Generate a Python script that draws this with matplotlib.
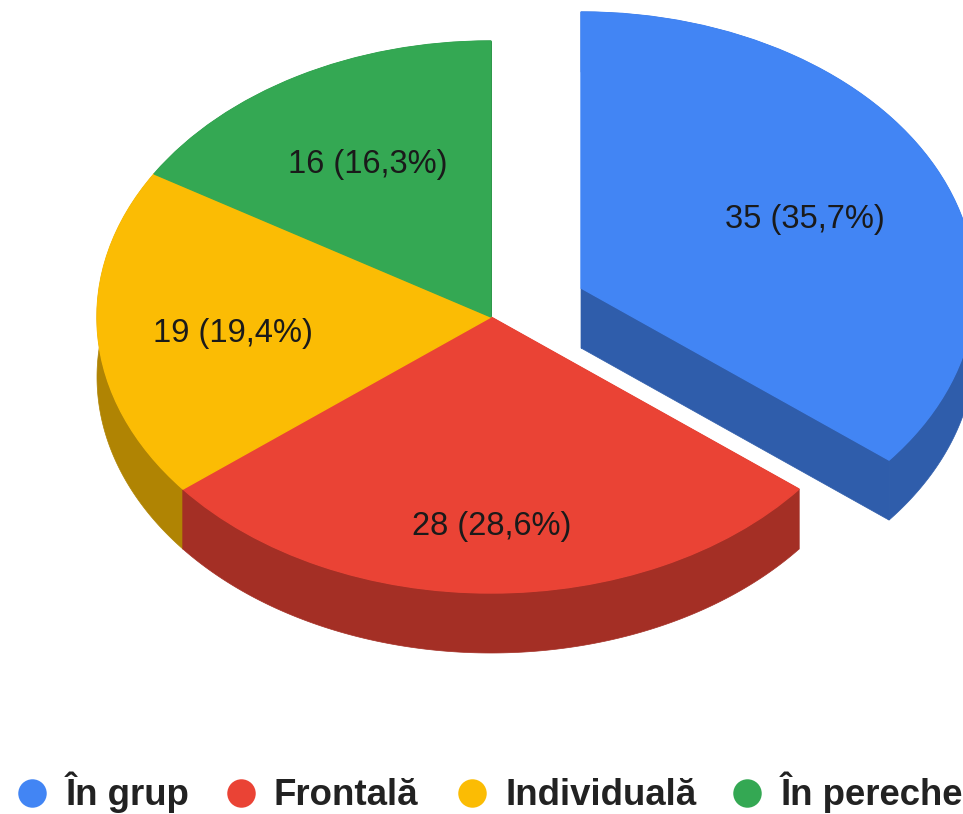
import numpy as np
import matplotlib
matplotlib.use('Agg')
import matplotlib.pyplot as plt

categories = ['În grup', 'Frontală', 'Individuală', 'În pereche']
values = [35, 28, 19, 16]
colors = ['#4285F4', '#EA4335', '#FBBC04', '#34A853']
dark_colors = ['#2F5DAB', '#A42F25', '#B08403', '#24763A']

W, H = 963, 814
cx, cy = 491, 317   # centre of the pie, pixels
rx, ry = 394, 276   # ellipse radii, pixels
depth = 60 / ry
explode_off = (90 / rx, 29 / ry)
label_r = [0.62, 0.75, 0.66, 0.64]
# small nudges of the labels, pixels
label_dx = [4, 1, 1, 0]
label_dy = [6, 3, 5, 1]

plt.rcParams['font.family'] = ['Liberation Sans', 'DejaVu Sans']

fig = plt.figure(figsize=(W / 100, H / 100), dpi=100)
ax = fig.add_axes([0, 0, 1, 1])

offs = [explode_off, (0, 0), (0, 0), (0, 0)]
total = sum(values)
fracs = np.array(values) / total
starts = np.concatenate([[0], np.cumsum(fracs)[:-1]]) * 2 * np.pi
ends = np.cumsum(fracs) * 2 * np.pi

# side walls first, slices go on top
for i in [2, 3, 1, 0]:
    ox, oy = offs[i]
    t = np.linspace(starts[i], ends[i], 200)
    x = ox + np.sin(t)
    y = oy + np.cos(t)
    ax.fill(np.r_[x, x[::-1]], np.r_[y, y[::-1] - depth], color=dark_colors[i], lw=0.5)
    for tt in (starts[i], ends[i]):
        xe, ye = ox + np.sin(tt), oy + np.cos(tt)
        ax.fill([ox, xe, xe, ox], [oy, ye, ye - depth, oy - depth], color=dark_colors[i], lw=0.5)

wedges, _ = ax.pie(values, colors=colors, startangle=90, counterclock=False,
                   explode=[np.hypot(*explode_off), 0, 0, 0], radius=1)
# pie() pushes the slice out along its middle, move it to where it is drawn
wedges[0].set_center(explode_off)
# own colour round each slice so the dark walls do not show along the edges
for w, col in zip(wedges, colors):
    w.set_edgecolor(col)
    w.set_linewidth(1.0)

ax.set_aspect('auto')
ax.set_xlim(-cx / rx, (W - cx) / rx)
ax.set_ylim(-(H - cy) / ry, cy / ry)
ax.axis('off')

for i, v in enumerate(values):
    mid = (starts[i] + ends[i]) / 2
    txt = f'{v} ({v / total * 100:.1f}%)'.replace('.', ',')
    ax.text(offs[i][0] + label_r[i] * np.sin(mid) + label_dx[i] / rx,
            offs[i][1] + label_r[i] * np.cos(mid) - label_dy[i] / ry, txt,
            ha='center', va='center', fontsize=23.5, color='#1a1a1a')

# legend, in figure pixels
marker_x = [32, 241, 472, 747]
for name, col, mx in zip(categories, colors, marker_x):
    fig.add_artist(plt.Line2D([mx / W], [1 - 793 / H], marker='o', ms=20.5, color=col, lw=0,
                              mew=0, transform=fig.transFigure))
    fig.text((mx + 33) / W, 1 - 805 / H, name, ha='left', va='baseline', fontsize=26.4,
             fontweight='bold', color='#222222')

fig.savefig('out.png', dpi=100, facecolor='white')
